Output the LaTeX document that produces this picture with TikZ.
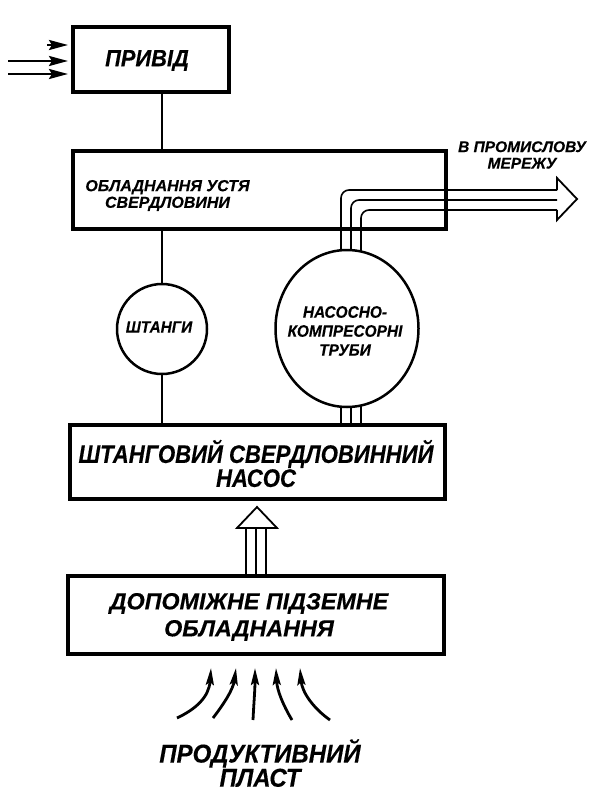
\documentclass[tikz,border=0pt]{standalone}
\usepackage{fontspec}
\setmainfont{Liberation Sans}
\newfontfamily\fA[FakeStretch=0.87,FakeBold=0.3]{Liberation Sans}
\newfontfamily\fB[FakeStretch=0.93,FakeBold=0.3]{Liberation Sans}
\newfontfamily\fC[FakeBold=0.3]{Liberation Sans}
\usetikzlibrary{arrows.meta,shapes.geometric,calc}
\newcommand{\myfs}[2]{\fontsize{#1}{#2}\selectfont\bfseries\itshape}
\begin{document}
\begin{tikzpicture}[x=1pt,y=-1pt,
  blk/.style={draw, line width=4pt, inner sep=0pt, fill=white},
  lbl/.style={align=center, inner sep=0pt},
  conn/.style={line width=1.8pt},
  pipe/.style={line width=1.6pt, rounded corners=8pt},
  arr/.style={line width=2.6pt, -{Stealth[length=19pt,width=10pt,inset=3pt]}},
  flow/.style={line width=2.8pt, -{Stealth[length=17pt,width=8pt,inset=3pt]}},
  hollow/.style={line width=1.8pt, fill=white, line join=miter},
]
\useasboundingbox (0,0) rectangle (595,797);
\fill[white] (0,0) rectangle (595,797);

% boxes
\node[blk, minimum width=156pt, minimum height=65pt] (privid) at (151,59.5) {};
\node[blk, minimum width=373pt, minimum height=78pt] (obl) at (259.5,190) {};
\node[blk, minimum width=375pt, minimum height=74pt] (nasos) at (257.5,462) {};
\node[blk, minimum width=376pt, minimum height=78pt] (dop) at (256,615) {};

% circles
\node[circle, draw, line width=2.5pt, minimum size=90pt, inner sep=0pt] (sht) at (162,329) {};

% pipe coordinates
\coordinate (pa1) at (341,270);
\coordinate (pa2) at (351,270);
\coordinate (pa3) at (361,270);
\coordinate (pb1) at (341,395);
\coordinate (pb2) at (351,395);
\coordinate (pb3) at (361,395);
\coordinate (pe1) at (557,190);
\coordinate (pe2) at (557,200);
\coordinate (pe3) at (557,210);

% pipes
\draw[pipe] (pa1) |- (pe1);
\draw[pipe] (pa2) |- (pe2);
\draw[pipe] (pa3) |- (pe3);
\draw[pipe] (pb1) -- (pb1 |- nasos.north);
\draw[pipe] (pb2) -- (pb2 |- nasos.north);
\draw[pipe] (pb3) -- (pb3 |- nasos.north);

\node[ellipse, draw, line width=2.5pt, minimum width=143pt, minimum height=157pt, inner sep=0pt, fill=white] (nkt) at (347,328.5) {};

% output arrow head
\coordinate (oh1) at (557,178);
\coordinate (oht) at (577,199);
\coordinate (oh2) at (557,220);
\draw[hollow, fill=none] (pe1) -- (oh1) -- (oht) -- (oh2) -- (pe3);

% connectors
\draw[conn] (privid.south -| sht.north) -- (obl.north -| sht.north);
\draw[conn] (obl.south -| sht.north) -- (sht.north);
\draw[conn] (sht.south) -- (nasos.north -| sht.south);

% up arrow between pump and auxiliary equipment
\coordinate (ua) at (257,507);
\coordinate (ul) at (237,528);
\coordinate (ur) at (277,528);
\coordinate (u1) at (246,528);
\coordinate (u2) at (256,528);
\coordinate (u3) at (266,528);
\draw[pipe] (u1) -- (u1 |- dop.north);
\draw[pipe] (u2) -- (u2 |- dop.north);
\draw[pipe] (u3) -- (u3 |- dop.north);
\draw[hollow] (ul) -- (ua) -- (ur) -- cycle;

% input arrows
\coordinate (i1s) at (47,45);
\coordinate (i2s) at (8,61);
\coordinate (i3s) at (8,74);
\draw[arr] (i1s) -- ($(i1s -| privid.west)+(-3,0)$);
\draw[arr] (i2s) -- ($(i2s -| privid.west)+(-3,0)$);
\draw[arr] (i3s) -- ($(i3s -| privid.west)+(-3,0)$);

% flow arrows from formation
\coordinate (f1) at (177,718);
\coordinate (f2) at (213,718);
\coordinate (f3) at (253,720);
\coordinate (f4) at (292,720);
\coordinate (f5) at (330,720);
\coordinate (g1) at (211,668);
\coordinate (g2) at (236,668);
\coordinate (g3) at (255,668);
\coordinate (g4) at (276,668);
\coordinate (g5) at (300,668);
\draw[flow] (f1) .. controls (196,709) and (209,697) .. (g1);
\draw[flow] (f2) .. controls (223,705) and (233,690) .. (g2);
\draw[flow] (f3) .. controls (254,700) and (255,690) .. (g3);
\draw[flow] (f4) .. controls (283,705) and (277,690) .. (g4);
\draw[flow] (f5) .. controls (313,708) and (302,692) .. (g5);

% labels
\node[lbl, font=\fB\myfs{23.5}{26}] (tprivid) at (147,60.5) {ПРИВІД};
\node[lbl, font=\fC\myfs{16}{16.6}] (tobl) at (167.5,195.5) {ОБЛАДНАННЯ УСТЯ\\СВЕРДЛОВИНИ};
\node[lbl, font=\fA\myfs{25.4}{24}] (tnasos) at (256,463.5) {ШТАНГОВИЙ СВЕРДЛОВИННИЙ\\НАСОС};
\node[lbl, font=\fC\myfs{23.3}{27}] (tdop) at (249,617) {ДОПОМІЖНЕ ПІДЗЕМНЕ\\ОБЛАДНАННЯ};
\node[lbl, font=\fB\myfs{25.8}{23}] (tplast) at (260,763) {ПРОДУКТИВНИЙ\\ПЛАСТ};
\node[lbl, font=\fB\myfs{16.6}{19}] (tnkt) at (345,331) {НАСОСНО-\\КОМПРЕСОРНІ\\ТРУБИ};
\node[lbl, font=\fB\myfs{16.5}{18}] (tsht) at (159,327) {ШТАНГИ};
\node[lbl, font=\fC\myfs{15.5}{16.5}] (tout) at (522,155) {В ПРОМИСЛОВУ\\МЕРЕЖУ};
\end{tikzpicture}
\end{document}
